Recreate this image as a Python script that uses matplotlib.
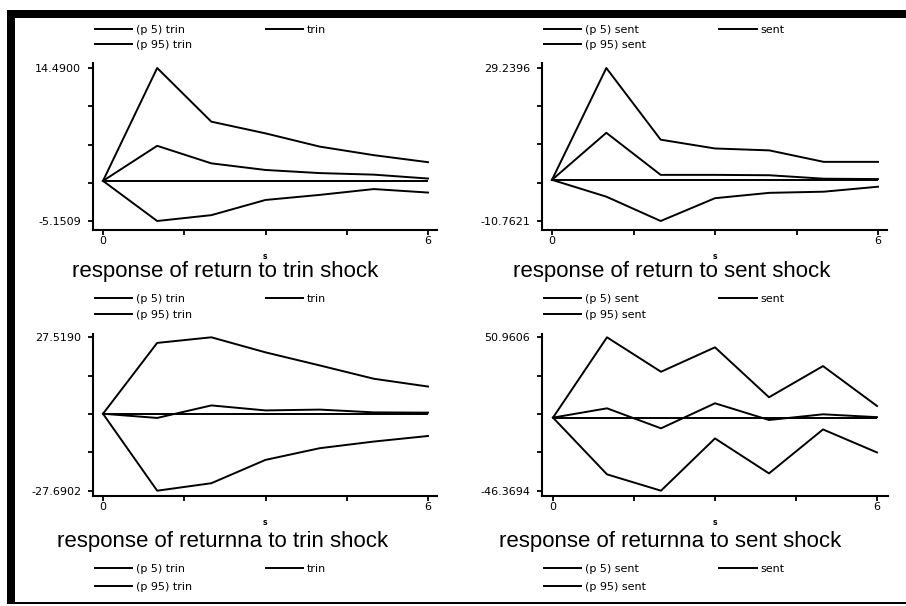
import matplotlib
matplotlib.use("Agg")
import matplotlib.pyplot as plt
import numpy as np
from matplotlib.patches import Rectangle

# ---------------- data ----------------
steps = [0, 1, 2, 3, 4, 5, 6]
xtick_vals = [0, 1.5, 3, 4.5, 6]
xtick_labels = ["0", "", "", "", "6"]

titles = ["response of return to trin shock",
          "response of return to sent shock",
          "response of returnna to trin shock",
          "response of returnna to sent shock"]
impulses = ["trin", "sent", "trin", "sent"]

return_trin_p5 = [0, -5.1509, -4.4, -2.45, -1.8, -1.05, -1.5]
return_trin_irf = [0, 4.5, 2.25, 1.4, 1.0, 0.8, 0.3]
return_trin_p95 = [0, 14.4900, 7.6, 6.1, 4.4, 3.3, 2.4]

return_sent_p5 = [0, -4.4, -10.7621, -4.8, -3.4, -3.1, -1.8]
return_sent_irf = [0, 12.3, 1.3, 1.3, 1.2, 0.3, 0.2]
return_sent_p95 = [0, 29.2396, 10.5, 8.2, 7.7, 4.7, 4.7]

returnna_trin_p5 = [0, -27.6902, -25.0, -16.6, -12.4, -10.0, -8.0]
returnna_trin_irf = [0, -1.5, 3.0, 1.2, 1.5, 0.5, 0.4]
returnna_trin_p95 = [0, 25.5, 27.5190, 22.1, 17.4, 12.6, 9.8]

returnna_sent_p5 = [0, -36.0, -46.3694, -13.2, -35.4, -7.5, -22.1]
returnna_sent_irf = [0, 5.9, -6.8, 9.1, -1.5, 2.1, 0.3]
returnna_sent_p95 = [0, 50.9606, 29.1, 44.6, 12.9, 32.7, 7.4]

series = [(return_trin_p5, return_trin_irf, return_trin_p95),
          (return_sent_p5, return_sent_irf, return_sent_p95),
          (returnna_trin_p5, returnna_trin_irf, returnna_trin_p95),
          (returnna_sent_p5, returnna_sent_irf, returnna_sent_p95)]

# ---------------- layout (pixels) ----------------
W, H = 906, 606
fig = plt.figure(figsize=(W / 100, H / 100), dpi=100)
fig.patch.set_facecolor("white")

def fx(px):
    return px / W

def fy(py):
    return 1 - py / H

# L, T, R, B of axes; x pixel of step 0 / step 6; y pixel of max / min tick
layout = [
    dict(L=93, T=63, R=437, B=230, x0=103, x6=428, yt=68, yb=221, tcx=225, tcy=272,
         legs=[(95, 25, 0.45)]),
    dict(L=542, T=63, R=887, B=230, x0=552, x6=878, yt=68, yb=221, tcx=672, tcy=272,
         legs=[(544, 25, 0.45)]),
    dict(L=93, T=334, R=437, B=496, x0=103, x6=428, yt=337.3, yb=490.7, tcx=223, tcy=542,
         legs=[(95, 293.5, 0.56), (95, 563.5, 0.75)]),
    dict(L=542, T=334, R=888, B=496, x0=553, x6=877, yt=337.3, yb=490.7, tcx=670, tcy=542,
         legs=[(544, 293.5, 0.56), (544, 563.5, 0.75)]),
]

small_font = dict(family="DejaVu Sans", size=8)
lw = 1.4

for (lo, irf, hi), lay, title, imp in zip(series, layout, titles, impulses):
    L, T, R, B = lay["L"], lay["T"], lay["R"], lay["B"]
    ax = fig.add_axes([fx(L), fy(B), (R - L) / W, (B - T) / H])
    l_lo, = ax.plot(steps, lo, color="black", lw=lw)
    l_irf, = ax.plot(steps, irf, color="black", lw=lw)
    l_hi, = ax.plot(steps, hi, color="black", lw=lw)
    ax.hlines(0, steps[0], steps[-1], color="black", lw=lw)

    ymin, ymax = min(lo), max(hi)
    s = (lay["yb"] - lay["yt"]) / (ymax - ymin)
    ax.set_ylim(ymin - (B - lay["yb"]) / s, ymax + (lay["yt"] - T) / s)
    sx = (lay["x6"] - lay["x0"]) / (steps[-1] - steps[0])
    ax.set_xlim(steps[0] - (lay["x0"] - L) / sx, steps[-1] + (R - lay["x6"]) / sx)

    yv = np.linspace(ymin, ymax, 5)
    ax.set_yticks(yv)
    ax.set_yticklabels([f"{ymin:.4f}", "", "", "", f"{ymax:.4f}"], fontdict=small_font)
    ax.set_xticks(xtick_vals)
    ax.set_xticklabels(xtick_labels, fontdict=small_font)
    ax.tick_params(axis="y", length=3.5, width=1.3, pad=5)
    ax.tick_params(axis="x", length=3.5, width=1.3, pad=1)
    for sp in ["top", "right"]:
        ax.spines[sp].set_visible(False)
    for sp in ["left", "bottom"]:
        ax.spines[sp].set_linewidth(1.5)
    ax.set_facecolor("none")
    ax.set_xlabel("s", fontsize=5.5, fontweight="bold", labelpad=4)

    fig.text(fx(lay["tcx"]), fy(lay["tcy"]), title, ha="center", va="center",
             family="Liberation Sans", fontsize=16)

    handles = [l_lo, l_hi, l_irf]
    labels = [f"(p 5) {imp}", f"(p 95) {imp}", imp]
    prev = None
    for (lx, ly, lsp) in lay["legs"]:
        leg = ax.legend(handles, labels, loc="upper left",
                        bbox_to_anchor=(fx(lx), fy(ly)), bbox_transform=fig.transFigure,
                        ncol=2, frameon=False, prop=small_font, borderpad=0,
                        borderaxespad=0, handlelength=3.35, handletextpad=0.35,
                        columnspacing=6.6, labelspacing=lsp)
        if prev is not None:
            ax.add_artist(prev)
        prev = leg

# frame border
fig.add_artist(Rectangle((fx(7), fy(18)), (W - 7) / W, 8 / H, transform=fig.transFigure,
                         facecolor="black", edgecolor="none"))
fig.add_artist(Rectangle((fx(7), fy(604)), 8 / W, (604 - 10) / H, transform=fig.transFigure,
                         facecolor="black", edgecolor="none"))
fig.add_artist(Rectangle((fx(7), fy(604)), (W - 7) / W, 2 / H, transform=fig.transFigure,
                         facecolor="black", edgecolor="none"))

fig.savefig("out.png", dpi=100, facecolor="white")
